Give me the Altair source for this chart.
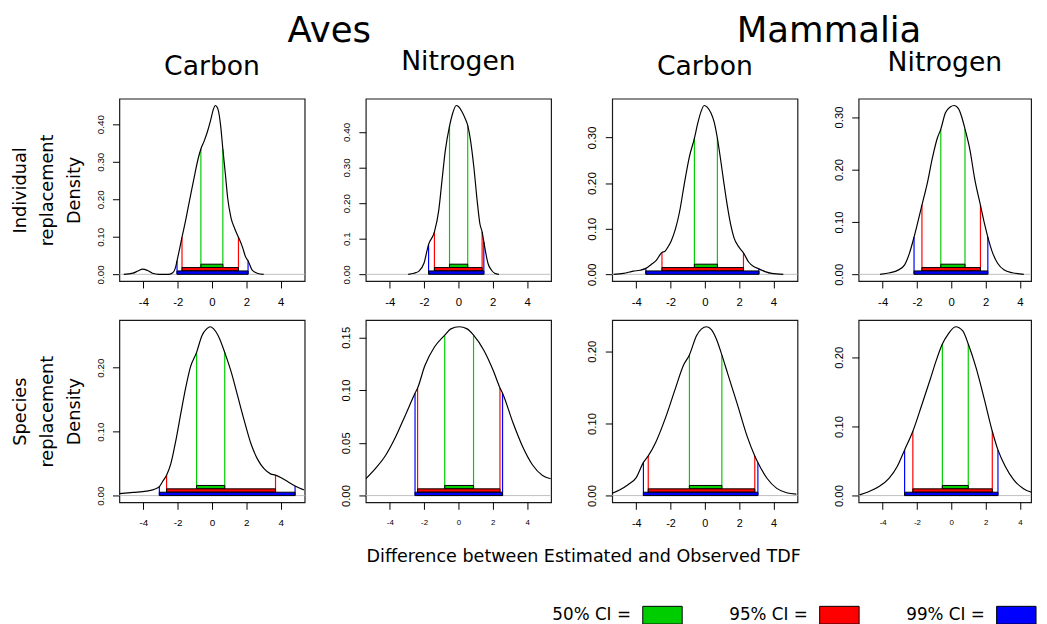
import altair as alt
import numpy as np
import pandas as pd

# ---------------- data ----------------
GROUPS = ["Aves", "Mammalia"]
ISOTOPES = ["Carbon", "Nitrogen"]
ROW_LABELS = [["Individual", "replacement", "Density"], ["Species", "replacement", "Density"]]
X_TITLE = "Difference between Estimated and Observed TDF"
X_TICKS = [-4, -2, 0, 2, 4]
CI_LEVELS = ["50%", "95%", "99%"]
CI_LABELS = ["50% CI =", "95% CI =", "99% CI ="]

# Aves - Carbon - individual replacement
AC_IND_X = [-5.14, -4.61, -4.32, -4.04, -3.75, -3.47, -3.09, -2.51, -2.29, -2.13, -2.04, -1.89,
            -1.75, -1.56, -1.28, -0.99, -0.80, -0.65, -0.46, -0.27, -0.08, 0.06, 0.19, 0.34,
            0.50, 0.63, 0.78, 0.91, 1.10, 1.33, 1.54, 1.77, 1.96, 2.10, 2.34, 2.63, 3.01]
AC_IND_Y = [0.000, 0.003, 0.009, 0.014, 0.010, 0.003, 0.000, 0.000, 0.004, 0.018, 0.036, 0.068,
            0.099, 0.139, 0.204, 0.270, 0.310, 0.334, 0.355, 0.380, 0.411, 0.437, 0.450, 0.441,
            0.397, 0.334, 0.266, 0.204, 0.152, 0.121, 0.099, 0.073, 0.046, 0.036, 0.011, 0.003, 0.000]
AC_IND_LO = [-0.65, -1.75, -2.04]
AC_IND_HI = [0.63, 1.54, 2.10]

# Aves - Nitrogen - individual replacement
AN_IND_X = [-2.93, -2.59, -2.30, -2.01, -1.74, -1.40, -1.15, -0.96, -0.77, -0.52, -0.33, -0.13,
            0.00, 0.19, 0.38, 0.54, 0.71, 0.90, 1.09, 1.25, 1.38, 1.48, 1.53, 1.72, 1.92, 2.11, 2.36]
AN_IND_Y = [0.000, 0.003, 0.009, 0.031, 0.084, 0.119, 0.179, 0.263, 0.346, 0.416, 0.453, 0.474,
            0.471, 0.458, 0.439, 0.418, 0.374, 0.300, 0.207, 0.142, 0.119, 0.091, 0.077, 0.031,
            0.012, 0.003, 0.000]
AN_IND_LO = [-0.52, -1.40, -1.74]
AN_IND_HI = [0.54, 1.38, 1.48]

# Mammalia - Carbon - individual replacement
MC_IND_X = [-5.32, -4.74, -4.17, -3.78, -3.44, -3.11, -2.82, -2.63, -2.50, -2.34, -2.15, -1.96,
            -1.71, -1.48, -1.19, -0.90, -0.61, -0.42, -0.23, -0.04, 0.15, 0.35, 0.54, 0.73, 0.92,
            1.11, 1.31, 1.50, 1.69, 1.98, 2.25, 2.55, 2.84, 3.15, 3.51, 3.90, 4.57]
MC_IND_Y = [0.000, 0.002, 0.007, 0.009, 0.013, 0.022, 0.031, 0.042, 0.048, 0.050, 0.060, 0.073,
            0.100, 0.136, 0.200, 0.258, 0.298, 0.330, 0.356, 0.370, 0.366, 0.354, 0.334, 0.298,
            0.251, 0.200, 0.150, 0.110, 0.081, 0.060, 0.047, 0.027, 0.017, 0.012, 0.006, 0.002, 0.000]
MC_IND_LO = [-0.61, -2.50, -3.44]
MC_IND_HI = [0.73, 2.25, 3.15]

# Mammalia - Nitrogen - individual replacement
MN_IND_X = [-4.15, -3.58, -3.10, -2.72, -2.44, -2.17, -1.71, -1.39, -1.10, -0.82, -0.61, -0.34,
            -0.06, 0.17, 0.42, 0.61, 0.80, 1.09, 1.37, 1.70, 1.94, 2.13, 2.42, 2.70, 3.09, 3.56, 4.23]
MN_IND_Y = [0.000, 0.003, 0.008, 0.018, 0.040, 0.071, 0.132, 0.175, 0.222, 0.259, 0.277, 0.308,
            0.319, 0.322, 0.316, 0.300, 0.277, 0.237, 0.181, 0.132, 0.096, 0.071, 0.040, 0.021,
            0.008, 0.003, 0.000]
MN_IND_LO = [-0.61, -1.71, -2.17]
MN_IND_HI = [0.80, 1.70, 2.13]

# Aves - Carbon - species replacement
AC_SP_X = [-5.39, -4.59, -3.83, -3.35, -3.07, -2.88, -2.65, -2.40, -2.11, -1.83, -1.54, -1.26,
           -0.90, -0.59, -0.30, -0.11, 0.08, 0.36, 0.74, 1.12, 1.50, 1.89, 2.27, 2.65, 3.03, 3.41,
           3.70, 4.08, 4.46, 4.84, 5.35]
AC_SP_Y = [0.003, 0.005, 0.007, 0.010, 0.014, 0.022, 0.032, 0.050, 0.086, 0.127, 0.168, 0.201,
           0.224, 0.250, 0.261, 0.264, 0.261, 0.250, 0.224, 0.193, 0.155, 0.116, 0.081, 0.057,
           0.042, 0.034, 0.032, 0.027, 0.021, 0.015, 0.009]
AC_SP_LO = [-0.90, -2.65, -3.07]
AC_SP_HI = [0.74, 3.70, 4.84]

# Aves - Nitrogen - species replacement
AN_SP_X = [-5.39, -4.82, -4.25, -3.68, -3.10, -2.53, -2.38, -1.96, -1.39, -0.80, -0.44, 0.04,
           0.51, 0.88, 1.47, 2.04, 2.42, 2.57, 3.18, 3.75, 4.32, 4.90, 5.37]
AN_SP_Y = [0.016, 0.026, 0.038, 0.055, 0.076, 0.097, 0.102, 0.123, 0.141, 0.152, 0.158, 0.160,
           0.158, 0.152, 0.138, 0.118, 0.102, 0.097, 0.069, 0.046, 0.029, 0.019, 0.016]
AN_SP_LO = [-0.80, -2.38, -2.53]
AN_SP_HI = [0.88, 2.42, 2.57]

# Mammalia - Carbon - species replacement
MC_SP_X = [-5.43, -4.95, -4.48, -4.00, -3.58, -3.30, -2.86, -2.29, -1.71, -1.24, -0.90, -0.48,
           -0.19, 0.10, 0.38, 0.67, 0.99, 1.33, 1.90, 2.48, 2.91, 3.09, 3.62, 4.19, 4.76, 5.33]
MC_SP_Y = [0.003, 0.008, 0.015, 0.025, 0.046, 0.055, 0.074, 0.108, 0.149, 0.181, 0.195, 0.222,
           0.231, 0.234, 0.230, 0.217, 0.195, 0.169, 0.126, 0.081, 0.055, 0.046, 0.024, 0.010,
           0.004, 0.002]
MC_SP_LO = [-0.90, -3.30, -3.58]
MC_SP_HI = [0.99, 2.91, 3.09]

# Mammalia - Nitrogen - species replacement
MN_SP_X = [-5.35, -4.78, -4.21, -3.63, -3.15, -2.72, -2.24, -1.72, -1.24, -0.88, -0.52, -0.19,
           0.25, 0.67, 0.99, 1.43, 1.91, 2.39, 2.72, 3.15, 3.63, 4.21, 4.78, 5.16, 5.40]
MN_SP_Y = [0.001, 0.006, 0.013, 0.025, 0.042, 0.066, 0.093, 0.131, 0.167, 0.195, 0.219, 0.233,
           0.244, 0.238, 0.219, 0.186, 0.141, 0.093, 0.066, 0.042, 0.023, 0.010, 0.004, 0.002, 0.001]
MN_SP_LO = [-0.52, -2.24, -2.72]
MN_SP_HI = [0.99, 2.39, 2.72]

# y tick values per panel
Y_TICKS_040 = [0.0, 0.1, 0.2, 0.3, 0.4]
Y_TICKS_030 = [0.0, 0.1, 0.2, 0.3]
Y_TICKS_020 = [0.0, 0.1, 0.2]
Y_TICKS_015 = [0.0, 0.05, 0.10, 0.15]

# ---------------- styling ----------------
GREEN, RED, BLUE, MAGENTA = "#00CD00", "#FF0000", "#0000FF", "#FF00FF"
TIER = {"99%": 0, "95%": 1, "50%": 2}
XMIN, XMAX = -5.4, 5.4
PW, PH = 188, 185
PX_PER_UNIT = PW / (XMAX - XMIN)
PW_RIGHT = 175            # right-most column is cut by the page edge
SANS = "DejaVu Sans"
TICKFONT = "Liberation Sans"
NOSTROKE = alt.ViewBackground(stroke="transparent")


def make_panel(xs, ys, lo, hi, yticks, ylab_size, xlab_size, title=None, title_offset=0,
               ytitle=None, line_colors=(GREEN, RED, BLUE), width=PW,
               ylab_expr="format(datum.value, '.2f')"):
    xs = np.asarray(xs, float)
    ys = np.asarray(ys, float)
    m = float(ys.max())
    xsc = alt.Scale(domain=[XMIN, XMIN + width / PX_PER_UNIT], nice=False, zero=False)
    ysc = alt.Scale(domain=[-0.04 * m, 1.04 * m], nice=False, zero=False)
    xaxis = alt.Axis(values=X_TICKS, labelExpr="'' + datum.value", grid=False, domain=False,
                     tickSize=7, tickColor="black", tickWidth=1, labelColor="black",
                     labelFont=TICKFONT, labelFontSize=xlab_size, labelPadding=9,
                     labelOverlap=False, labelFlush=False, title="")
    ykw = dict(values=yticks, labelExpr=ylab_expr, grid=False, domain=False, tickSize=7,
               tickColor="black", tickWidth=1, labelColor="black", labelFont=TICKFONT,
               labelFontSize=ylab_size, labelAngle=270, labelAlign="center",
               labelBaseline="alphabetic", labelPadding=9.5, labelOverlap=False,
               labelFlush=False)
    if ytitle:
        ykw.update(title=ytitle, titleFont=SANS, titleFontSize=18, titleFontWeight="normal",
                   titleColor="black", titleLineHeight=27.5, titlePadding=12)
    else:
        ykw.update(title="")
    yaxis = alt.Axis(**ykw)

    curve = pd.DataFrame({"x": xs, "y": ys})
    zero = pd.DataFrame({"y": [0.0]})
    vx = list(lo) + list(hi)
    vlines = pd.DataFrame({"level": CI_LEVELS * 2, "x": vx,
                           "top": np.interp(vx, xs, ys), "base": 0.0})
    bars = pd.DataFrame({"level": CI_LEVELS, "lo": lo, "hi": hi})
    bars["b0"] = [TIER[l] * 0.02 * m for l in CI_LEVELS]
    bars["b1"] = [(TIER[l] + 1) * 0.02 * m for l in CI_LEVELS]

    zl = alt.Chart(zero).mark_rule(color="#BEBEBE", strokeWidth=1).encode(
        y=alt.Y("y:Q", scale=ysc, axis=yaxis))
    vl = alt.Chart(vlines).mark_rule(strokeWidth=1.2).encode(
        x=alt.X("x:Q", scale=xsc, axis=xaxis),
        y=alt.Y("top:Q", scale=ysc, axis=yaxis), y2="base:Q",
        stroke=alt.Stroke("level:N", scale=alt.Scale(domain=CI_LEVELS, range=list(line_colors)),
                          legend=None))
    br = alt.Chart(bars).mark_rect(stroke="black", strokeWidth=1).encode(
        x=alt.X("lo:Q", scale=xsc, axis=xaxis), x2="hi:Q",
        y=alt.Y("b0:Q", scale=ysc, axis=yaxis), y2="b1:Q",
        fill=alt.Fill("level:N", scale=alt.Scale(domain=CI_LEVELS, range=[GREEN, RED, BLUE]),
                      legend=None))
    cl = alt.Chart(curve).mark_line(color="black", strokeWidth=1.2, interpolate="monotone",
                                    clip=True).encode(
        x=alt.X("x:Q", scale=xsc, axis=xaxis), y=alt.Y("y:Q", scale=ysc, axis=yaxis))
    ch = alt.layer(zl, vl, br, cl).properties(width=width, height=PH)
    if title:
        ch = ch.properties(title=alt.Title(title, font=SANS, fontSize=27, fontWeight="normal",
                                           color="black", anchor="middle", frame="group",
                                           baseline="alphabetic", offset=title_offset))
    return ch


p1 = make_panel(AC_IND_X, AC_IND_Y, AC_IND_LO, AC_IND_HI, Y_TICKS_040, 10, 11.5,
                title=ISOTOPES[0], title_offset=-2.5, ytitle=ROW_LABELS[0])
p2 = make_panel(AN_IND_X, AN_IND_Y, AN_IND_LO, AN_IND_HI, Y_TICKS_040, 10, 11.5,
                title=ISOTOPES[1], title_offset=2,
                ylab_expr="datum.value == 0.1 ? '0.1' : format(datum.value, '.2f')")
p3 = make_panel(MC_IND_X, MC_IND_Y, MC_IND_LO, MC_IND_HI, Y_TICKS_030, 12, 11.5,
                title=ISOTOPES[0], title_offset=-2.5)
p4 = make_panel(MN_IND_X, MN_IND_Y, MN_IND_LO, MN_IND_HI, Y_TICKS_030, 11.5, 11.5,
                title=ISOTOPES[1], title_offset=1.5, width=PW_RIGHT)
p5 = make_panel(AC_SP_X, AC_SP_Y, AC_SP_LO, AC_SP_HI, Y_TICKS_020, 10, 10,
                ytitle=ROW_LABELS[1], line_colors=(GREEN, MAGENTA, BLUE))
p6 = make_panel(AN_SP_X, AN_SP_Y, AN_SP_LO, AN_SP_HI, Y_TICKS_015, 11.5, 8)
p7 = make_panel(MC_SP_X, MC_SP_Y, MC_SP_LO, MC_SP_HI, Y_TICKS_020, 11.5, 11)
p8 = make_panel(MN_SP_X, MN_SP_Y, MN_SP_LO, MN_SP_HI, Y_TICKS_020, 11.5, 8, width=PW_RIGHT)

grid = alt.concat(p1, p2, p3, p4, p5, p6, p7, p8, columns=4,
                  spacing={"row": 39.5, "column": 62}, bounds="flush")


def header(text, w):
    return alt.Chart(pd.DataFrame({"t": [text]})).mark_text(
        font=SANS, fontSize=36, baseline="alphabetic", color="black").encode(
        text="t:N").properties(width=w, height=12, view=NOSTROKE)


headers = alt.hconcat(header(GROUPS[0], 426), header(GROUPS[1], 400), spacing=92)
upper = alt.vconcat(headers, grid, spacing=-2.5)

# legend row with the shared x-axis title
LEG_W = 880
rect_shape = "M-1,-0.45L1,-0.45L1,0.45L-1,0.45Z"
leg_df = pd.DataFrame({"label": CI_LABELS, "order": list(range(len(CI_LABELS)))})
leg_x = alt.X("order:Q", axis=None, scale=alt.Scale(domain=[-3.0696, 1.8329], nice=False,
                                                     zero=False))
leg_boxes = alt.Chart(leg_df).mark_point(shape=rect_shape, filled=True, size=1600, opacity=1,
                                         stroke="black", strokeWidth=1).encode(
    x=leg_x,
    fill=alt.Fill("label:N", scale=alt.Scale(domain=CI_LABELS, range=[GREEN, RED, BLUE]),
                  legend=None))
leg_text = alt.Chart(leg_df).mark_text(align="right", baseline="middle", dx=-32, font=SANS,
                                       fontSize=17, color="black").encode(
    x=leg_x, text="label:N")
legend = alt.layer(leg_boxes, leg_text).properties(
    width=LEG_W, height=18, view=NOSTROKE,
    title=alt.Title(X_TITLE, font=SANS, fontSize=17.8, fontWeight="normal", color="black",
                    anchor="middle", frame="group", baseline="alphabetic", dx=31, offset=25))

chart = alt.vconcat(upper, legend, spacing=17.5).properties(
    padding={"left": 2, "top": 0, "right": 0, "bottom": 0}, background="white"
).configure_view(stroke="#1a1a1a", strokeWidth=1.2)

chart.save("out.html", embed_options={"renderer": "svg", "actions": False})
